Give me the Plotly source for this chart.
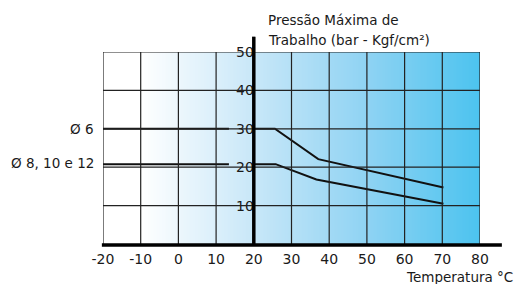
import numpy as np
import plotly.graph_objects as go

# ---- data ----
x_ticks = [-20, -10, 0, 10, 20, 30, 40, 50, 60, 70, 80]
x_ticktext = ["-20", "-10", "0", "10", "20", "30", "40", "50", "60", "70", "80"]
y_ticks = [10, 20, 30, 40, 50]
y_ticktext = ["10", "20", "30", "40", "50"]

temp_6 = [-20, 13.4, None, 20, 25.6, 37.1, 70.3]
pres_6 = [30, 30, None, 30, 30, 22.1, 14.7]
temp_8 = [-20, 13.4, None, 20, 25.8, 36.6, 70.3]
pres_8 = [20.8, 20.8, None, 20.8, 20.8, 16.8, 10.5]

label_6 = "Ø 6"
label_8 = "Ø 8, 10 e 12"
title_1 = "Pressão Máxima de"
title_2 = "Trabalho (bar - Kgf/cm²)"
x_title = "Temperatura °C"

FONT = "DejaVu Sans"
TXT = "#1a1a1a"
GRID = "#222222"

xmin, xmax = x_ticks[0], x_ticks[-1]
ymin, ymax = 0, y_ticks[-1]
axis_x = 20  # position of the vertical axis

fig = go.Figure()

# background gradient (white -> blue)
edges = np.linspace(xmin, xmax, 251)
centers = (edges[:-1] + edges[1:]) / 2
fig.add_trace(go.Heatmap(
    x=edges, y=[ymin, ymax], z=[centers],
    zmin=xmin, zmax=xmax,
    colorscale=[[0.0, "#ffffff"], [0.1, "#ffffff"], [0.4, "#c8e7f8"],
                [0.7, "#8fd3f3"], [1.0, "#4cc3ef"]],
    showscale=False, hoverinfo="skip",
))

for tx, py in [(temp_6, pres_6), (temp_8, pres_8)]:
    fig.add_trace(go.Scatter(x=tx, y=py, mode="lines",
                             line=dict(color="#111111", width=2),
                             hoverinfo="skip", showlegend=False))

shapes = []
# grid lines above the gradient
for xv in x_ticks:
    shapes.append(dict(type="line", xref="x", yref="y", x0=xv, x1=xv, y0=ymin, y1=ymax,
                       line=dict(color=GRID, width=1.2), layer="above"))
for yv in y_ticks:
    shapes.append(dict(type="line", xref="x", yref="y", x0=xmin, x1=xmax, y0=yv, y1=yv,
                       line=dict(color=GRID, width=1.2), layer="above"))
# thick axes
ax_frac = (axis_x - xmin) / (xmax - xmin)
shapes.append(dict(type="line", xref="paper", yref="paper", x0=ax_frac, x1=ax_frac,
                   y0=-0.005, y1=1.08, line=dict(color="#000000", width=3.5)))
shapes.append(dict(type="line", xref="paper", yref="paper", x0=-0.003, x1=1.058,
                   y0=-0.005, y1=-0.005, line=dict(color="#000000", width=3.5)))

fig.update_layout(
    width=517, height=284,
    margin=dict(l=103, r=37, t=52, b=40),
    paper_bgcolor="white", plot_bgcolor="white",
    showlegend=False,
    font=dict(family=FONT, size=13.5, color=TXT),
    shapes=shapes,
    xaxis=dict(range=[xmin, xmax], tickvals=x_ticks, ticktext=x_ticktext,
               showgrid=False, zeroline=False, showline=False,
               ticks="outside", ticklen=2, tickcolor="rgba(0,0,0,0)",
               tickfont=dict(size=14, family=FONT, color=TXT)),
    yaxis=dict(range=[ymin, ymax], tickvals=y_ticks, ticktext=y_ticktext,
               showgrid=False, zeroline=False, showline=False,
               anchor="free", position=ax_frac, ticks="",
               tickfont=dict(size=14, family=FONT, color=TXT)),
)

# side labels for the series
fig.add_annotation(text=label_6, xref="paper", yref="y", x=0, y=pres_6[0],
                   xanchor="right", yanchor="middle", xshift=-7, showarrow=False,
                   font=dict(size=13.5))
fig.add_annotation(text=label_8, xref="paper", yref="y", x=0, y=pres_8[0],
                   xanchor="right", yanchor="middle", xshift=-7, yshift=1, showarrow=False,
                   font=dict(size=13.5))
# axis titles
fig.add_annotation(text=title_1, xref="x", yref="paper", x=23.2, y=1.167,
                   xanchor="left", yanchor="middle", showarrow=False)
fig.add_annotation(text=title_2, xref="x", yref="paper", x=23.2, y=1.065,
                   xanchor="left", yanchor="middle", showarrow=False)
fig.add_annotation(text=x_title, xref="paper", yref="paper", x=1.093, y=-0.174,
                   xanchor="right", yanchor="middle", showarrow=False)

fig.write_html("out.html", config={"displayModeBar": False},
               post_script="document.body.style.margin='0px';document.body.style.padding='0px';")
